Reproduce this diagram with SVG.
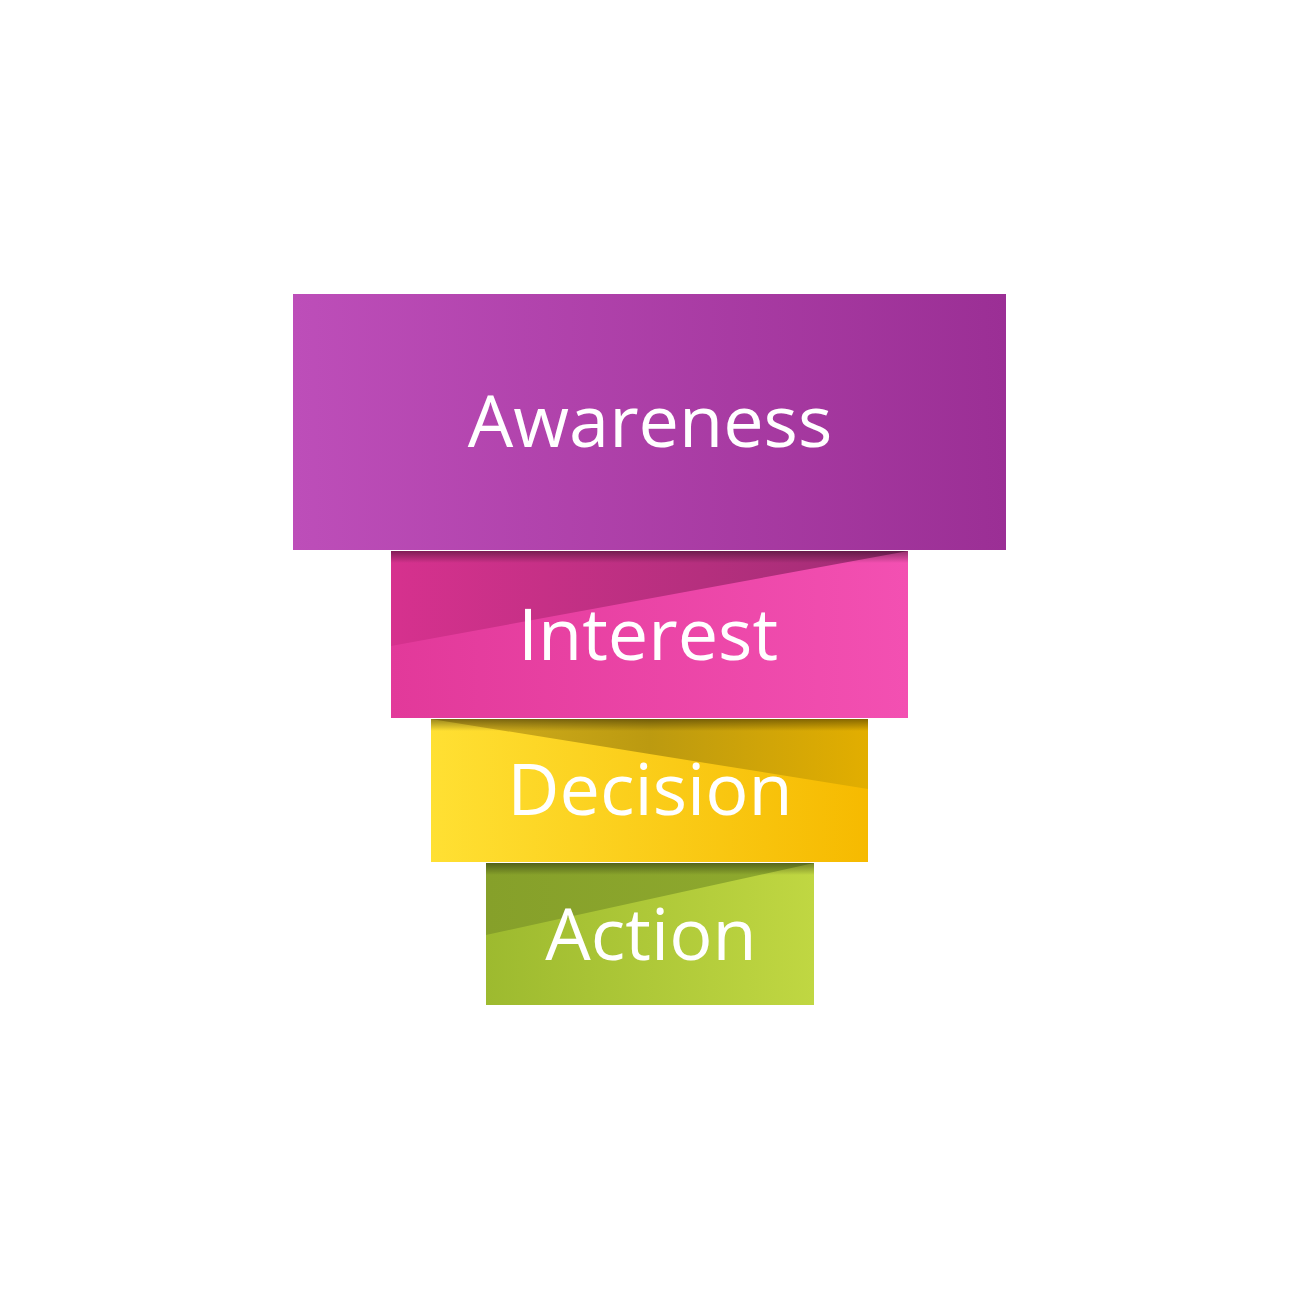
<svg xmlns="http://www.w3.org/2000/svg" width="1300" height="1300" viewBox="0 0 1300 1300">
<defs>
<linearGradient id="gA" x1="0" y1="0" x2="1" y2="0"><stop offset="0" stop-color="#BD4EB9"/><stop offset="1" stop-color="#9B2F95"/></linearGradient>
<linearGradient id="gI" x1="0" y1="0" x2="1" y2="0"><stop offset="0" stop-color="#E2399A"/><stop offset="1" stop-color="#F350B2"/></linearGradient>
<linearGradient id="gIw" x1="0" y1="0" x2="1" y2="0"><stop offset="0" stop-color="#D6318E"/><stop offset="0.6" stop-color="#B52F7E"/><stop offset="1" stop-color="#A02D75"/></linearGradient>
<linearGradient id="gD" x1="0" y1="0" x2="1" y2="0"><stop offset="0" stop-color="#FFE033"/><stop offset="1" stop-color="#F6BA00"/></linearGradient>
<linearGradient id="gDw" x1="0" y1="0" x2="1" y2="0"><stop offset="0" stop-color="#D2B020"/><stop offset="0.5" stop-color="#BC9A10"/><stop offset="1" stop-color="#E2AE00"/></linearGradient>
<linearGradient id="gC" x1="0" y1="0" x2="1" y2="0"><stop offset="0" stop-color="#9DBA2F"/><stop offset="1" stop-color="#C0D742"/></linearGradient>
<linearGradient id="gCw" x1="0" y1="0" x2="1" y2="0"><stop offset="0" stop-color="#86A02A"/><stop offset="1" stop-color="#8FAA2E"/></linearGradient>
<linearGradient id="sh" x1="0" y1="0" x2="0" y2="1"><stop offset="0" stop-color="#000" stop-opacity="0.4"/><stop offset="1" stop-color="#000" stop-opacity="0"/></linearGradient>
<style>
.lbl{font-family:"Open Sans","Noto Sans","Liberation Sans",sans-serif;font-size:72px;fill:#ffffff;text-anchor:middle}
</style>
</defs>
<rect width="1300" height="1300" fill="#ffffff"/>
<g id="action">
<rect x="486" y="863" width="328" height="142" fill="url(#gC)"/>
<polygon points="486,863 814,863 486,935" fill="url(#gCw)"/>
<rect x="486" y="863" width="328" height="12" fill="url(#sh)"/>
<text class="lbl" x="651" y="960">Action</text>
</g>
<g id="decision">
<rect x="431" y="719" width="437" height="143" fill="url(#gD)"/>
<polygon points="431,719 868,719 868,789" fill="url(#gDw)"/>
<rect x="431" y="719" width="437" height="12" fill="url(#sh)"/>
<text class="lbl" x="650" y="815">Decision</text>
</g>
<g id="interest">
<rect x="391" y="551" width="517" height="167" fill="url(#gI)"/>
<polygon points="391,551 908,551 391,646" fill="url(#gIw)"/>
<rect x="391" y="551" width="517" height="12" fill="url(#sh)"/>
<text class="lbl" x="648" y="660">Interest</text>
</g>
<g id="awareness">
<rect x="293" y="294" width="713" height="256" fill="url(#gA)"/>
<text class="lbl" x="650" y="447">Awareness</text>
</g>
<g id="connectors"/>
</svg>
